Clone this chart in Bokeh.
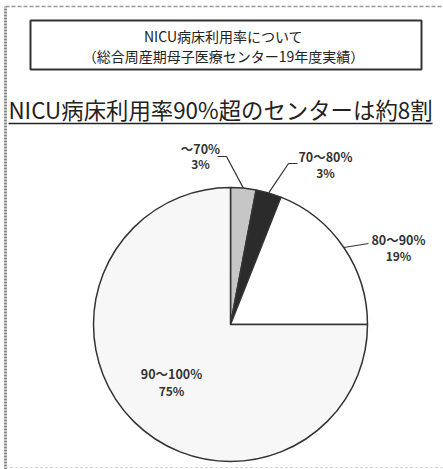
import numpy as np
from bokeh.plotting import figure
from bokeh.models import ColumnDataSource
from bokeh.core.properties import value
from bokeh.embed import file_html
from bokeh.resources import INLINE

# ---- data ----
categories = ["～70%", "70～80%", "80～90%", "90～100%"]
shares = [3, 3, 19, 75]
pct_labels = ["3%", "3%", "19%", "75%"]
title_lines = ["NICU病床利用率について", "（総合周産期母子医療センター19年度実績）"]
headline = "NICU病床利用率90%超のセンターは約8割"

# ---- styles / layout ----
colors = ["#c6c6c6", "#2b2b2b", "#ffffff", "#f7f7f7"]
W, H = 443, 469
cx, cy, R = 230, 145, 137
cat_pos = [(200, 321), (325, 313), (398, 230), (171, 96)]
pct_pos = [(200, 306), (325, 297), (398, 214), (171, 79)]
leader_elbows = [[(226, 313), (217, 313)], [(288, 306), (297, 306)], [(368, 226)], []]
FONT = "Noto Sans CJK JP"

p = figure(width=W, height=H, x_range=(0, W), y_range=(0, H),
           output_backend="svg", toolbar_location=None, min_border=0)
p.axis.visible = False
p.grid.visible = False
p.outline_line_color = None
p.background_fill_color = "white"

# outer frame
p.line(x=[5, 5], y=[0, 463], line_color="#8a8a8a", line_width=3, line_dash="2 1")
p.line(x=[5, H], y=[463, 463], line_color="#9a9a9a", line_width=1.5, line_dash="4 2")
p.line(x=[5, H], y=[2, 2], line_color="#c8c8c8", line_width=1, line_dash="2 3")

# title box
p.quad(left=30, right=421, bottom=400, top=449, fill_color=None,
       line_color="#333333", line_width=2)
p.text(x=[223, 223], y=[434, 414], text=title_lines,
       text_font=value(FONT), text_font_size="14px", text_color="#222222",
       text_align="center", text_baseline="middle")

# headline with underline
p.text(x=[220], y=[361], text=[headline], text_font=value(FONT),
       text_font_size="22.4px", text_color="#222222",
       text_align="center", text_baseline="middle")
p.line(x=[8, 432], y=[346, 346], line_color="#222222", line_width=1.5)

# pie
frac = np.array(shares, dtype=float) / sum(shares)
cum = np.concatenate([[0], np.cumsum(frac)])
start = np.pi / 2 - cum[:-1] * 2 * np.pi
end = np.pi / 2 - cum[1:] * 2 * np.pi
src = ColumnDataSource(dict(start=start, end=end, color=colors))
p.wedge(x=cx, y=cy, radius=R, start_angle="start", end_angle="end",
        direction="clock", fill_color="color", line_color="#333333",
        line_width=1.5, source=src)

# leader lines
mid = (start + end) / 2
xs, ys = [], []
for i, el in enumerate(leader_elbows):
    if not el:
        continue
    xs.append([cx + R * np.cos(mid[i])] + [e[0] for e in el])
    ys.append([cy + R * np.sin(mid[i])] + [e[1] for e in el])
p.multi_line(xs=xs, ys=ys, line_color="#333333", line_width=1.2)

# labels
p.text(x=[q[0] for q in cat_pos], y=[q[1] for q in cat_pos], text=categories,
       text_font=value(FONT), text_font_size="12.5px", text_font_style="bold",
       text_color="#333333", text_align="center", text_baseline="middle")
p.text(x=[q[0] for q in pct_pos], y=[q[1] for q in pct_pos], text=pct_labels,
       text_font=value(FONT), text_font_size="12px", text_font_style="bold",
       text_color="#333333", text_align="center", text_baseline="middle")

open("out.html", "w").write(file_html(p, INLINE))
